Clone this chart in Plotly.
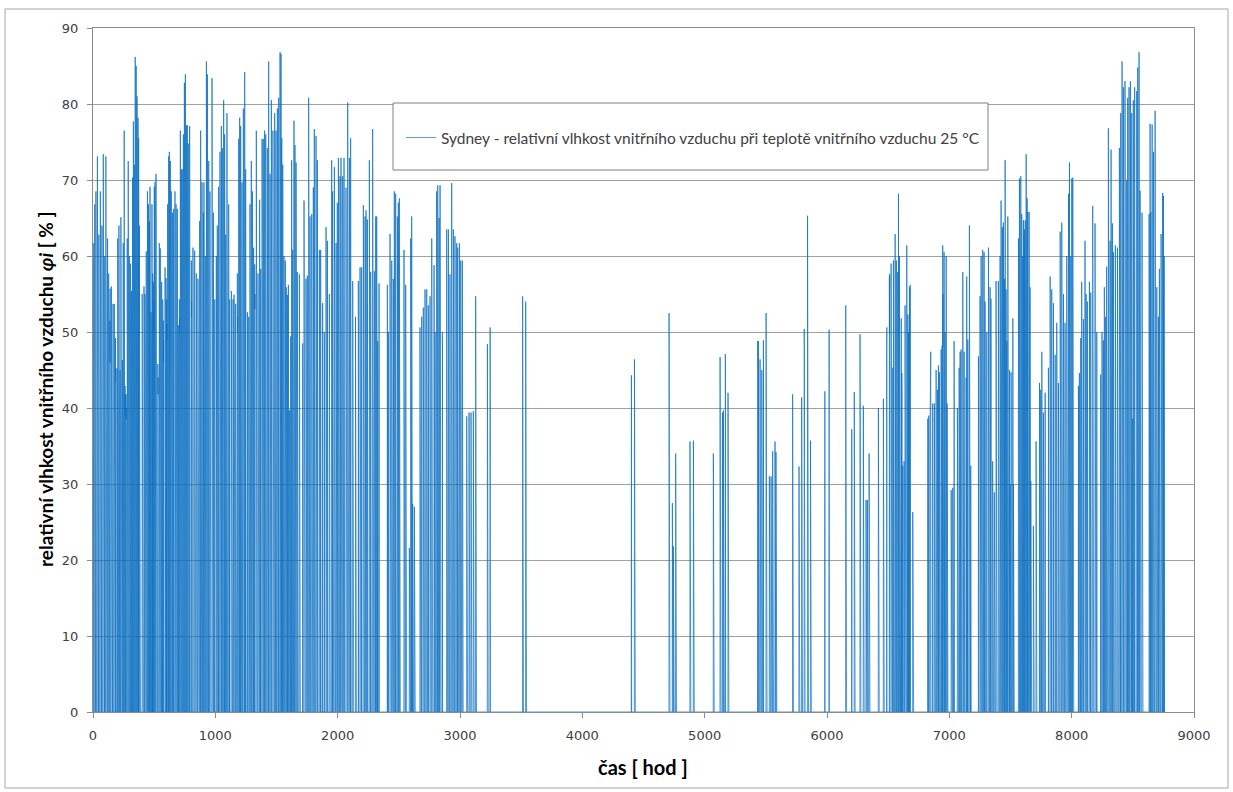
import numpy as np
import plotly.graph_objects as go

# Hourly indoor relative humidity (%) in Sydney at 25 degC indoor air.
# Each period lists the start hour of every run of non-zero readings and the
# consecutive hourly readings of that run; every other hour of the year is 0 %.
HOURS_IN_YEAR = 8760

jan_feb_start = [1, 12, 24, 36, 48, 60, 72, 84, 96, 105, 118, 128, 138, 150, 162, 174, 184, 196,
                 202, 212, 220, 228, 240, 247, 255, 262, 270, 280, 288, 297, 307, 315, 323, 330,
                 338, 345, 353, 360, 368, 373, 379, 402, 417, 425, 435, 445, 453, 461, 466, 474,
                 482, 488, 493, 501, 507, 515, 520, 530, 542, 550, 561, 570, 575, 589, 597, 602,
                 610, 619, 624, 632, 640, 651, 659, 670, 679, 689, 697, 706, 714, 722, 730, 739,
                 747, 755, 763, 771, 779, 790, 804, 817, 831, 845, 858, 872, 880, 891, 902, 907,
                 918, 927, 935, 946, 956, 973, 984, 995, 1008, 1016, 1027, 1038, 1049, 1057, 1068,
                 1076, 1085, 1095, 1109, 1117, 1131, 1145, 1153, 1166, 1180, 1191, 1199, 1207,
                 1218, 1229, 1240, 1248, 1262, 1273, 1283, 1294, 1303, 1313, 1322, 1335, 1349,
                 1362, 1371, 1382, 1392, 1403, 1412]
jan_feb_rh = [
    [58, 61.7, 48, 57.7], [55.4, 44, 66.8], [68.5, 50, 53.7], [73.1, 49, 55], [62.8, 46, 58],
    [68.5, 52, 67], [49, 64, 56], [73.4, 51, 60], [60, 47, 55], [73.1, 52, 64.6], [54, 62.3, 50],
    [57.7, 44, 51.5], [51.5, 46, 55.7], [56, 45, 50], [51.5, 42, 53.7], [53.7, 44, 49.2],
    [49.2, 43.5, 45.2], [43.5, 45.2, 40], [62.3, 47, 55], [64, 45], [39.5, 45, 42],
    [65.1, 48, 44], [46.3, 40, 44], [61.7, 46, 52], [76.5, 50, 45], [42.9, 39, 41.8],
    [41.8, 38.5, 40], [62.3, 44, 48], [72.5, 50, 55], [60, 38.3, 45], [59, 48, 52],
    [55.4, 47, 50], [70.3, 55, 60], [77.7, 62, 66], [72, 60, 65], [86.2, 70, 78], [85, 72, 76],
    [81, 66, 70], [78.2, 64, 60], [75.5, 58], [64, 55, 50], [55], [56, 50, 48], [55, 46, 52],
    [60.6, 52, 54], [68.5, 55, 58], [66.8, 50, 60], [64.6, 52, 57], [69.1, 56, 60],
    [52.6, 50.3, 48], [66.8, 52, 55], [57.7, 53], [56.6, 50, 54], [69.1, 55, 60],
    [69.7, 58, 62], [70.8, 55, 52], [49.7, 46], [45.8, 41.8, 44], [61.7, 50, 55], [61, 52, 48],
    [56.6, 48, 52], [54.3, 50], [51.5, 46, 49], [58.5, 50, 54], [57.1, 52], [54.3, 49, 51],
    [66.8, 52, 58], [73.1, 60, 65], [73.7, 55], [72.5, 58, 62], [68.5, 54, 56], [65.7, 52, 55],
    [66.2, 56, 58], [68.5, 54, 60], [66.8, 55, 57], [66.2, 50, 52], [50.9, 48.6], [54.3, 50, 52],
    [76.5, 58, 62], [71.4, 56, 60], [71.4, 55], [76, 60, 64], [82.8, 66, 70], [83.9, 60, 72],
    [77.2, 58, 62], [77.2, 54, 60], [74.8, 52, 55], [77.1, 58, 52], [59.4, 52, 54], [61.1, 54],
    [60.7, 50.9, 54.3], [57.7, 49.7, 52], [57, 50], [64.6, 52], [76.5, 49.2, 60],
    [69.7, 46.3, 55], [65.7, 52], [69.7, 55], [60, 50, 55], [85.6, 65, 60], [83.9, 70, 62],
    [72.5, 52, 60], [68.5, 44.6, 55], [83.4, 60, 56], [65.7, 55], [54.3, 50], [60, 52],
    [64, 49.2, 55], [69.1, 52, 58], [73.7, 53, 60], [77.1, 58, 65], [74.2, 62], [80.5, 60, 66],
    [76, 58], [62.8, 52], [78.8, 60, 55], [66.8, 50], [54.3, 48], [55.4, 44, 50], [54.3, 47],
    [54.9, 48, 50], [53.7, 46], [57.7, 50, 52], [75.4, 58, 62], [78.2, 60], [77.1, 62, 58],
    [69.7, 55], [79.4, 60, 64], [84.2, 66, 62], [71.4, 58], [52.6, 50], [52, 41.8, 46],
    [66.8, 52], [72.5, 55, 58], [68.5, 56], [61.1, 52], [58.9, 53, 55], [76.5, 56], [57.7, 50],
    [67.4, 54], [58.3, 52], [75.4, 56, 60], [75.4, 58], [76.5, 60, 62], [76, 58],
]

mar_may_start = [1425, 1436, 1447, 1458, 1471, 1485, 1496, 1507, 1518, 1529, 1537, 1543, 1551,
                 1561, 1572, 1580, 1589, 1597, 1607, 1616, 1624, 1632, 1643, 1651, 1660, 1670,
                 1687, 1714, 1725, 1741, 1752, 1763, 1774, 1788, 1801, 1809, 1823, 1834, 1850,
                 1861, 1877, 1891, 1905, 1916, 1932, 1951, 1959, 1973, 1987, 1997, 2006, 2019,
                 2027, 2041, 2052, 2068, 2082, 2096, 2106, 2123, 2146, 2169, 2183, 2196, 2210,
                 2224, 2232, 2243, 2259, 2270, 2286, 2300, 2311, 2319, 2327, 2338, 2406, 2414,
                 2428, 2442, 2455, 2463, 2474, 2488, 2496, 2504, 2542, 2556, 2586, 2597, 2605,
                 2613, 2627, 2673, 2687, 2700, 2714, 2728, 2741, 2755, 2769, 2788, 2796, 2809,
                 2818, 2829, 2837, 2856, 2891, 2905, 2918, 2932, 2946, 2959, 2973, 2981, 2995,
                 3006, 3019, 3055, 3074, 3090, 3109, 3128]
mar_may_rh = [
    [74.2, 55], [85.6, 62, 66], [70.8, 58], [80.5, 53, 60], [76.5, 50, 56], [78.8, 58],
    [76.5, 60, 62], [79.4, 62], [80.8, 60, 64], [86.8, 70, 76], [86.6, 66], [75.5, 62],
    [72, 58], [60, 54], [59.4, 52], [55.9, 48], [54.9, 50], [56.2, 50], [39.7], [49.4, 42],
    [72.6, 50, 55], [60.8, 48], [77.8, 55, 60], [74.6, 58], [72.3, 52, 56], [57.9, 46],
    [57.6, 48], [48.5, 44], [67.3, 50, 55], [57, 48], [57.4, 50], [80.8, 56, 60],
    [65.2, 45, 52], [65.5, 54], [69, 52, 58], [76.7, 60], [75.8, 58, 62], [72.6, 55],
    [60.8, 50], [60.8, 48, 52], [53.8, 48], [50, 46], [63.8, 50], [62, 52], [55, 48],
    [72.6, 55, 60], [68.5, 58], [71.7, 54, 60], [61.7, 52], [67, 55, 58], [72.9, 52, 60],
    [70.5, 50, 56], [72.9, 58], [70.5, 52, 55], [72.9, 56], [69, 50, 58], [80.2, 60, 56],
    [72.9, 52], [75.5, 55, 60], [56.7, 45], [52], [56.7, 50], [58.5, 48], [58.5, 52],
    [66.7, 55, 58], [65.2, 52], [66, 56], [64.8, 50], [72.6, 55, 60], [57.9, 50],
    [76.7, 55, 60], [58, 50], [65.2, 52], [65.2, 55], [48.8, 45], [56.4, 50], [56.2, 50],
    [50, 45], [62.9, 52], [59.4, 50], [57, 50], [68.5, 52, 56], [68.2, 55], [65.2, 52],
    [67, 55], [67.6, 54], [60.8, 52], [56.2, 48], [21.6], [62.3, 50], [65.2, 55], [27.4],
    [27], [50.6], [52, 48], [53.2], [55.6, 50], [55.6], [53.5, 48], [54.7], [62.3, 52],
    [58.8, 50], [50, 45], [68.5, 55], [69.3, 58], [65, 52], [69.3, 51.2], [50, 45],
    [63.5, 55], [63.5], [57.6, 52], [69.6, 55], [63.5], [62.6, 55], [61.7], [61.1, 52],
    [61.7], [59.4, 50], [59.4], [38.9], [39.4], [39.4], [39.6], [54.7],
]

jun_sep_start = [3224, 3246, 3512, 3537, 4401, 4426, 4709, 4736, 4744, 4763, 4880, 4908, 5071,
                 5126, 5145, 5153, 5169, 5191, 5434, 5439, 5453, 5467, 5480, 5502, 5529, 5543,
                 5556, 5575, 5583, 5719, 5771, 5793, 5814, 5841, 5865, 5982, 6017, 6153, 6202,
                 6223, 6270, 6297, 6319, 6330, 6344, 6420]
jun_sep_rh = [
    [48.4], [50.6, 50.2], [54.7], [54], [44.3, 40], [46.4], [52.5], [27.5], [21.8], [34],
    [35.6], [35.7], [34], [46.7], [39.4], [39.7], [47.1, 45], [42], [48.8, 44.3], [48.8],
    [46.4], [45], [48.9, 44], [52.5, 43.3], [31], [31], [34.3], [35.6], [34.2], [41.8],
    [32.3], [41.4], [50.4], [65.3, 50], [35.7], [42.2, 42], [50.3, 49.6], [53.5],
    [37.1, 37.2], [42.1], [49.7], [40.3], [27.9], [27.9], [34], [40],
]

oct_nov_start = [6461, 6488, 6510, 6524, 6538, 6543, 6557, 6565, 6578, 6584, 6592, 6603, 6607,
                 6612, 6619, 6630, 6638, 6652, 6661, 6666, 6674, 6680, 6701, 6824, 6832, 6843,
                 6848, 6864, 6878, 6892, 6903, 6911, 6919, 6933, 6941, 6946, 6957, 6965, 6974,
                 6982, 7015, 7028, 7039, 7066, 7080, 7088, 7096, 7110, 7121, 7137, 7142, 7151,
                 7164, 7175, 7238, 7251, 7260, 7273, 7284, 7292, 7306, 7320, 7333, 7340, 7354,
                 7368, 7382, 7401, 7415, 7423, 7434, 7442, 7450, 7456, 7464, 7470, 7478, 7491,
                 7497, 7505, 7519, 7524, 7565, 7573, 7584, 7592, 7600, 7606, 7614, 7620, 7628,
                 7636, 7641, 7652, 7660, 7666, 7687, 7709, 7737, 7747, 7756, 7769, 7783, 7810,
                 7824, 7837, 7851, 7865, 7878, 7892, 7906, 7919, 7933, 7946, 7960, 7974, 7982,
                 7993, 8001, 8009]
oct_nov_rh = [
    [41.2], [47.7, 50.6], [57.3, 50, 57.6], [59, 48], [45.3, 42], [59.4, 50], [62.9, 48],
    [42.4, 45, 59.4], [57.9, 50], [68.2, 52, 60], [60, 48, 53.5], [44.7, 50], [51.8, 45],
    [44.6, 40], [32.4, 30], [33, 30], [53.5, 46], [61.4, 50, 52], [52.3, 48], [50, 45],
    [55.9, 50], [56.2, 52], [26.3], [38.6, 36], [39, 37], [39.2], [47.4, 40], [40.6, 38],
    [40.6], [45, 40], [42.4], [45.6, 42], [44.7], [47.7, 42], [48.2], [61.4, 48, 55],
    [60.5, 50], [50, 44], [60, 50], [40.6], [29.2], [29.5], [48.8, 44], [40], [45.3, 42],
    [47.4], [47.7, 44], [57.9, 48], [47.4], [44, 41.2], [57.3, 48], [49, 45], [64, 50],
    [32.4], [46.8, 42], [54.7, 48], [60, 50], [60.8, 52], [60.5], [54, 48], [50, 45],
    [61.1, 50], [55.9], [54.4, 48], [33], [28.9], [56.7, 48], [56.7, 48], [60, 50],
    [67.3, 52], [63.8, 50], [64.4, 55], [57, 50], [72.6, 58], [55.6, 48], [48.8],
    [65.2, 50, 55], [36, 45], [30], [44.7, 40], [51.8, 48], [30], [62.3, 50], [70.2, 55],
    [70.5, 52, 58], [65.5, 50], [60, 48], [64.7, 52], [63.5], [64.7, 55], [73.4, 60, 62],
    [67.6, 50], [65.8], [65.8, 48], [55.9, 46], [30.4], [24.5], [35.6], [43.3, 40], [42.4],
    [47.4, 42], [39.4], [42, 40], [45.3, 42], [57.3, 48], [55.6, 51.2], [53.8, 48], [47, 44],
    [51.2, 46], [43.3], [63.2, 50], [64.4, 52], [55, 48], [51.2, 46], [60, 50], [68.2, 55],
    [72.3, 58], [60, 50], [70.2, 56], [70.3, 52],
]

dec_start = [8055, 8063, 8074, 8082, 8096, 8109, 8118, 8128, 8145, 8156, 8172, 8191, 8205, 8237,
             8248, 8259, 8267, 8278, 8286, 8300, 8314, 8322, 8333, 8341, 8357, 8374, 8390, 8401,
             8412, 8423, 8436, 8450, 8458, 8469, 8480, 8491, 8499, 8504, 8515, 8532, 8540, 8551,
             8559, 8575, 8633, 8641, 8647, 8658, 8669, 8682, 8696, 8709, 8717, 8731, 8744, 8750,
             8756]
dec_rh = [
    [42.9, 40], [44.6], [49.2, 45], [56.6, 48], [51.7, 47], [62, 50], [55, 48], [54, 47],
    [56.6, 48], [55.2, 47], [66.6, 52], [64.3, 50], [50, 46], [44.4, 40], [50, 45],
    [48.9, 46], [55.9, 50], [52, 48], [58.6, 50], [76.8, 58], [62, 50], [74, 60], [64.3, 52],
    [60.5, 50], [61.4, 52], [61.1, 48], [74.2, 55], [78.8, 60], [85.6, 65, 70], [82.2, 60],
    [83, 62], [70, 55], [80.8, 60], [82.2, 62], [83, 58], [78.8, 56], [38.6], [80.5, 55],
    [82.2, 60], [81.7, 58], [84.8, 62], [86.8, 65, 70], [68.6, 55], [65.7, 50], [65.5, 48],
    [77.4, 55], [65.8, 50], [77.3, 55], [73.7, 52], [79.1, 55], [55.9, 45], [52, 47],
    [58.3, 50], [62.9, 50], [68.3, 52], [67.9, 47], [60, 50],
]

x_ticks = [0, 1000, 2000, 3000, 4000, 5000, 6000, 7000, 8000, 9000]
y_ticks = [0, 10, 20, 30, 40, 50, 60, 70, 80, 90]

series_name = "Sydney - relativní vlhkost vnitřního vzduchu při teplotě vnitřního vzduchu 25 °C"

# Assemble the full hourly series for the year
hours = np.arange(HOURS_IN_YEAR)
rh = np.zeros(HOURS_IN_YEAR)
for starts, runs in [(jan_feb_start, jan_feb_rh), (mar_may_start, mar_may_rh),
                     (jun_sep_start, jun_sep_rh), (oct_nov_start, oct_nov_rh),
                     (dec_start, dec_rh)]:
    for h0, seq in zip(starts, runs):
        rh[h0:h0 + len(seq)] = seq

# Plot-area geometry in pixels (page 1233 x 792)
W, H = 1233, 792
L, R, T, B = 93, 1194, 28, 712


def px(xp):
    return (xp - L) / (R - L)


def py(yp):
    return (B - yp) / (B - T)


fig = go.Figure()
fig.add_trace(go.Scatter(
    x=hours, y=rh, mode="lines", name=series_name,
    line=dict(color="#0A6EC0", width=0.7),
    hoverinfo="skip",
))

axis_font = dict(family="DejaVu Sans", size=13, color="#404040")

fig.update_layout(
    width=W, height=H,
    margin=dict(l=L, r=W - R, t=T, b=H - B),
    paper_bgcolor="white", plot_bgcolor="white",
    showlegend=True,
    legend=dict(
        x=px(401), y=py(138), xanchor="left", yanchor="middle",
        bgcolor="rgba(0,0,0,0)", borderwidth=0,
        font=dict(family="Lato", size=15.5, color="#404040"),
    ),
    xaxis=dict(
        range=[0, 9000], tickvals=x_ticks, ticktext=[str(v) for v in x_ticks],
        showgrid=False, zeroline=False,
        showline=True, linecolor="#8c8c8c", linewidth=1, mirror=True,
        ticks="outside", ticklen=5, tickcolor="#8c8c8c",
        tickfont=axis_font, ticklabelstandoff=6, layer="below traces",
    ),
    yaxis=dict(
        range=[0, 90], tickvals=y_ticks, ticktext=[str(v) for v in y_ticks],
        showgrid=True, gridcolor="#a0a0a0", gridwidth=1, zeroline=False,
        showline=True, linecolor="#8c8c8c", linewidth=1, mirror=True,
        ticks="outside", ticklen=5, tickcolor="#8c8c8c",
        tickfont=axis_font, ticklabelstandoff=6, layer="below traces",
    ),
    shapes=[
        # outer chart frame
        dict(type="rect", xref="paper", yref="paper",
             x0=px(5), x1=px(1228), y0=py(788), y1=py(9),
             line=dict(color="#a6a6a6", width=1), layer="below"),
        # legend box
        dict(type="rect", xref="paper", yref="paper",
             x0=px(393), x1=px(988), y0=py(170), y1=py(103),
             line=dict(color="#7f7f7f", width=1), fillcolor="white", layer="above"),
    ],
    annotations=[
        dict(text="<b>čas [ hod ]</b>", xref="paper", yref="paper",
             x=px(643), y=py(767), xanchor="center", yanchor="middle",
             showarrow=False, font=dict(family="Lato", size=20, color="#000000")),
        dict(text="<b>relativní vlhkost vnitřního vzduchu <i>φi</i> [ % ]</b>",
             xref="paper", yref="paper", x=px(46), y=py(390),
             xanchor="center", yanchor="middle", textangle=-90,
             showarrow=False, font=dict(family="Lato", size=19, color="#000000")),
    ],
)

fig.write_html("out.html")
